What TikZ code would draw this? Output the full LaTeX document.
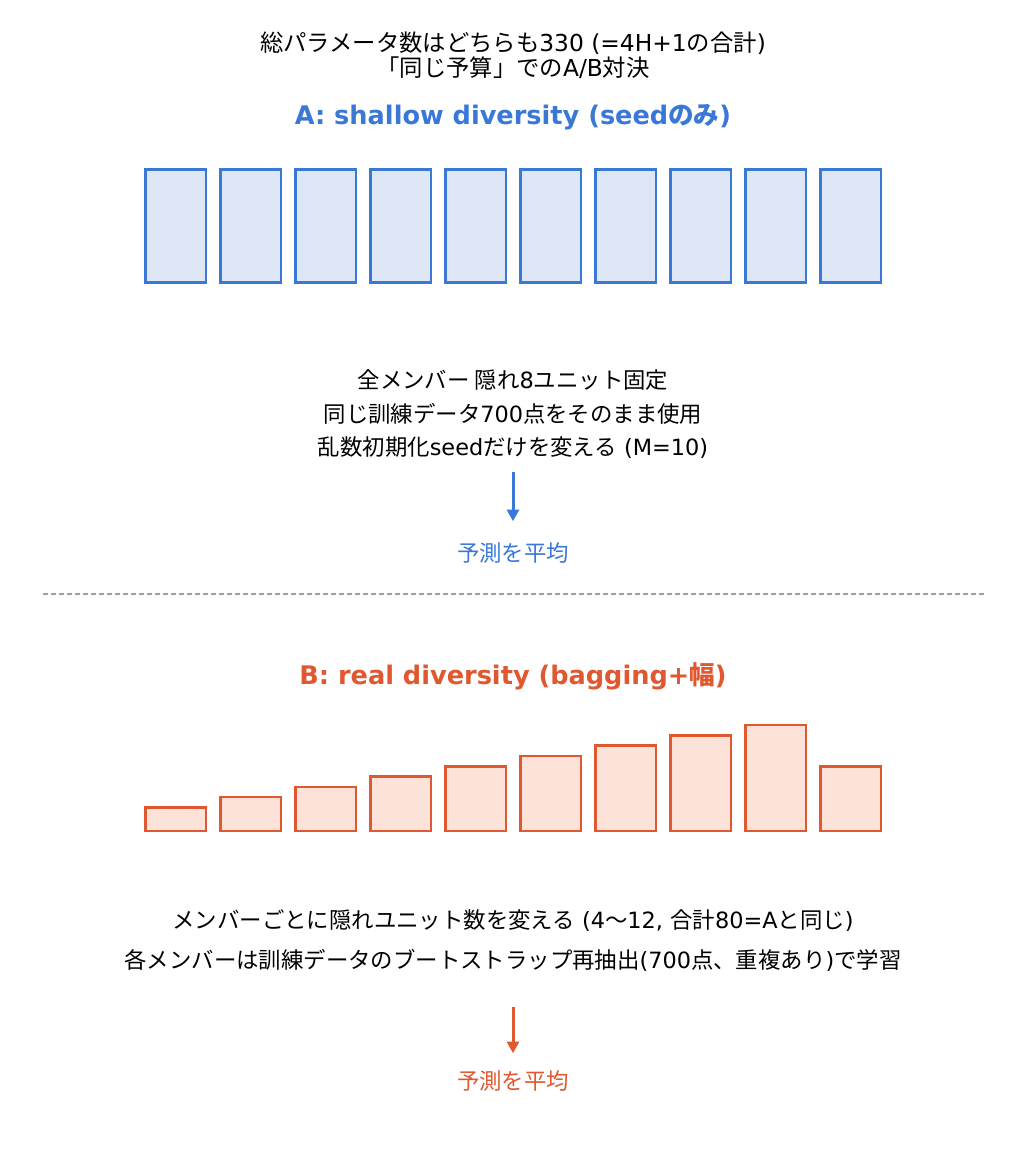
\documentclass[tikz,border=0pt]{standalone}
\usepackage{fontspec}
\setmainfont{DejaVu Sans}
\newfontfamily\jpfont{Noto Sans CJK JP}

\tikzset{every picture/.style={line width=0.75pt}}
\tikzset{
  memberA/.style={draw={rgb, 255:red, 58; green, 120; blue, 216}, fill={rgb, 255:red, 221; green, 231; blue, 246}, line width=1.9},
  memberB/.style={draw={rgb, 255:red, 224; green, 88; blue, 48}, fill={rgb, 255:red, 252; green, 226; blue, 217}, line width=1.9},
  headA/.style={color={rgb, 255:red, 58; green, 120; blue, 216}, font=\fontsize{19.2}{22}\selectfont\bfseries},
  headB/.style={color={rgb, 255:red, 224; green, 88; blue, 48}, font=\fontsize{19.2}{22}\selectfont\bfseries},
  title/.style={font=\fontsize{17.5}{20}\selectfont},
  body/.style={font=\fontsize{16.8}{20}\selectfont},
  avgA/.style={body, color={rgb, 255:red, 58; green, 120; blue, 216}},
  avgB/.style={body, color={rgb, 255:red, 224; green, 88; blue, 48}},
}

\begin{document}
\begin{tikzpicture}[x=0.75pt,y=0.75pt,yscale=-1,xscale=1]
\useasboundingbox (0,0) rectangle (1027,1156);

% Text Node
\draw (513,43) node (title1) [inner sep=0.75pt] [title] {{\jpfont 総パラメータ数はどちらも}330 (=4H+1{\jpfont の合計})};
% Text Node
\draw (513,68) node (title2) [inner sep=0.75pt] [title] {{\jpfont 「同じ予算」での}A/B{\jpfont 対決}};
% Text Node
\draw (513,117) node (headlineA) [inner sep=0.75pt] [headA] {A: shallow diversity (seed{\jpfont\bfseries のみ})};

%Shape: Rectangle
\draw [memberA] (145.5,169.5) -- (206,169.5) -- (206,282.5) -- (145.5,282.5) -- cycle ;
%Shape: Rectangle
\draw [memberA] (220.5,169.5) -- (281,169.5) -- (281,282.5) -- (220.5,282.5) -- cycle ;
%Shape: Rectangle
\draw [memberA] (295.5,169.5) -- (356,169.5) -- (356,282.5) -- (295.5,282.5) -- cycle ;
%Shape: Rectangle
\draw [memberA] (370.5,169.5) -- (431,169.5) -- (431,282.5) -- (370.5,282.5) -- cycle ;
%Shape: Rectangle
\draw [memberA] (445.5,169.5) -- (506,169.5) -- (506,282.5) -- (445.5,282.5) -- cycle ;
%Shape: Rectangle
\draw [memberA] (520.5,169.5) -- (581,169.5) -- (581,282.5) -- (520.5,282.5) -- cycle ;
%Shape: Rectangle
\draw [memberA] (595.5,169.5) -- (656,169.5) -- (656,282.5) -- (595.5,282.5) -- cycle ;
%Shape: Rectangle
\draw [memberA] (670.5,169.5) -- (731,169.5) -- (731,282.5) -- (670.5,282.5) -- cycle ;
%Shape: Rectangle
\draw [memberA] (745.5,169.5) -- (806,169.5) -- (806,282.5) -- (745.5,282.5) -- cycle ;
%Shape: Rectangle
\draw [memberA] (820.5,169.5) -- (881,169.5) -- (881,282.5) -- (820.5,282.5) -- cycle ;

% Text Node
\draw (513,380) node (lineA1) [inner sep=0.75pt] [body] {{\jpfont 全メンバー 隠れ}8{\jpfont ユニット固定}};
% Text Node
\draw (513,414) node (lineA2) [inner sep=0.75pt] [body] {{\jpfont 同じ訓練データ}700{\jpfont 点をそのまま使用}};
% Text Node
\draw (513,448) node (lineA3) [inner sep=0.75pt] [body] {{\jpfont 乱数初期化}seed{\jpfont だけを変える} (M=10)};

%Straight Lines
\coordinate (arrowAtop) at (513,472);
\coordinate (arrowAtip) at (513,521);
\draw [color={rgb, 255:red, 58; green, 120; blue, 216}, line width=2.25, shorten >=4] (arrowAtop) -- (arrowAtip) ;
\draw [shift={(arrowAtip)}, rotate = 270] [fill={rgb, 255:red, 58; green, 120; blue, 216}][line width=0.08] [draw opacity=0] (11.5,-6.5) -- (0,0) -- (11.5,6.5) -- cycle ;

% Text Node
\draw (513,553) node (averageA) [inner sep=0.75pt] [avgA] {\jpfont 予測を平均};

%Straight Lines
\coordinate (splitL) at (43,594);
\coordinate (splitR) at (984,594);
\draw [color={rgb, 255:red, 160; green, 160; blue, 160}, line width=1.5, dash pattern={on 4pt off 2pt}] (splitL) -- (splitR) ;

% Text Node
\draw (513,676) node (headlineB) [inner sep=0.75pt] [headB] {B: real diversity (bagging+{\jpfont\bfseries 幅})};

%Shape: Rectangle
\draw [memberB] (145.5,807.5) -- (206,807.5) -- (206,831) -- (145.5,831) -- cycle ;
%Shape: Rectangle
\draw [memberB] (220.5,797.2) -- (281,797.2) -- (281,831) -- (220.5,831) -- cycle ;
%Shape: Rectangle
\draw [memberB] (295.5,786.9) -- (356,786.9) -- (356,831) -- (295.5,831) -- cycle ;
%Shape: Rectangle
\draw [memberB] (370.5,776.6) -- (431,776.6) -- (431,831) -- (370.5,831) -- cycle ;
%Shape: Rectangle
\draw [memberB] (445.5,766.3) -- (506,766.3) -- (506,831) -- (445.5,831) -- cycle ;
%Shape: Rectangle
\draw [memberB] (520.5,756) -- (581,756) -- (581,831) -- (520.5,831) -- cycle ;
%Shape: Rectangle
\draw [memberB] (595.5,745.7) -- (656,745.7) -- (656,831) -- (595.5,831) -- cycle ;
%Shape: Rectangle
\draw [memberB] (670.5,735.4) -- (731,735.4) -- (731,831) -- (670.5,831) -- cycle ;
%Shape: Rectangle
\draw [memberB] (745.5,725.1) -- (806,725.1) -- (806,831) -- (745.5,831) -- cycle ;
%Shape: Rectangle
\draw [memberB] (820.5,766.3) -- (881,766.3) -- (881,831) -- (820.5,831) -- cycle ;

% Text Node
\draw (513,921) node (lineB1) [inner sep=0.75pt] [body] {{\jpfont メンバーごとに隠れユニット数を変える} (4{\jpfont ～}12, {\jpfont 合計}80=A{\jpfont と同じ})};
% Text Node
\draw (513,960) node (lineB2) [inner sep=0.75pt] [body] {{\jpfont 各メンバーは訓練データのブートストラップ再抽出}(700{\jpfont 点、重複あり})\jpfont で学習};

%Straight Lines
\coordinate (arrowBtop) at (513,1007);
\coordinate (arrowBtip) at (513,1053);
\draw [color={rgb, 255:red, 224; green, 88; blue, 48}, line width=2.25, shorten >=4] (arrowBtop) -- (arrowBtip) ;
\draw [shift={(arrowBtip)}, rotate = 270] [fill={rgb, 255:red, 224; green, 88; blue, 48}][line width=0.08] [draw opacity=0] (11.5,-6.5) -- (0,0) -- (11.5,6.5) -- cycle ;

% Text Node
\draw (513,1081) node (averageB) [inner sep=0.75pt] [avgB] {\jpfont 予測を平均};

\end{tikzpicture}
\end{document}
